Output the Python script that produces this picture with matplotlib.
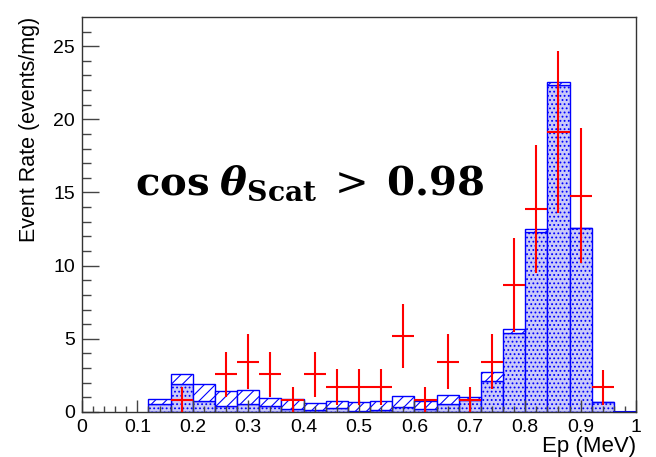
import matplotlib
matplotlib.use("Agg")
import matplotlib.pyplot as plt
import numpy as np

plt.rcParams['font.family'] = ['Liberation Sans', 'DejaVu Sans']
plt.rcParams['mathtext.fontset'] = 'dejavuserif'
plt.rcParams['hatch.linewidth'] = 0.8

# histogram bins (MeV)
bin_lo = np.round(np.arange(0.12, 1.00, 0.04), 2)
bin_w = 0.04
# lower component (dotted) and full stack height
sig_rate = [0.55, 1.89, 0.75, 0.39, 0.55, 0.39, 0.18, 0.15, 0.25, 0.08, 0.14,
            0.32, 0.18, 0.52, 0.82, 2.14, 5.42, 12.30, 22.34, 12.55, 0.66, 0.0]
total_rate = [0.87, 2.57, 1.89, 1.41, 1.48, 0.93, 0.88, 0.60, 0.77, 0.65, 0.75,
              1.07, 0.73, 1.16, 1.05, 2.71, 5.65, 12.48, 22.52, 12.59, 0.66, 0.0]

# measured points
ep = [0.18, 0.26, 0.30, 0.34, 0.38, 0.42, 0.46, 0.50, 0.54, 0.58,
      0.62, 0.66, 0.70, 0.74, 0.78, 0.82, 0.86, 0.90, 0.94]
rate = [0.85, 2.57, 3.44, 2.57, 0.85, 2.57, 1.69, 1.69, 1.69, 5.19,
        0.85, 3.44, 0.85, 3.44, 8.67, 13.87, 19.15, 14.78, 1.69]
rate_err = [0.85, 1.55, 1.90, 1.55, 0.85, 1.55, 1.22, 1.22, 1.22, 2.20,
            0.85, 1.90, 0.85, 1.90, 3.20, 4.40, 5.55, 4.60, 1.20]

sig = np.array(sig_rate)
top = np.array(total_rate) - sig

fig = plt.figure(figsize=(6.56, 4.57), dpi=100)
ax = fig.add_axes([0.125, 0.0985, 0.8445, 0.8645])

# stacked histogram: dotted part below, hatched part on top
ax.bar(bin_lo, sig, width=bin_w, align='edge', facecolor='#cacaf8',
       edgecolor='blue', hatch='....', linewidth=1.0)
ax.bar(bin_lo, top, width=bin_w, bottom=sig, align='edge', facecolor='white',
       edgecolor='blue', hatch='///', linewidth=1.0)
ax.plot([0.96, 1.0], [0, 0], color='blue', lw=1.5, clip_on=False)

# data with error bars
ax.errorbar(ep, rate, yerr=rate_err, xerr=bin_w / 2, fmt='none',
            ecolor='red', elinewidth=1.5, capsize=0, zorder=5)

ax.set_xlim(0, 1)
ax.set_ylim(0, 27)
ax.set_xticks(np.arange(0, 1.01, 0.1))
ax.set_xticklabels(['0', '0.1', '0.2', '0.3', '0.4', '0.5', '0.6', '0.7', '0.8', '0.9', '1'])
ax.set_xticks(np.arange(0, 1.001, 0.02), minor=True)
ax.set_yticks([0, 5, 10, 15, 20, 25])
ax.set_yticks(np.arange(0, 27, 1), minor=True)

ax.tick_params(axis='both', which='both', direction='in', colors='#444444',
               labelcolor='black', labelsize=14, width=1)
ax.tick_params(axis='y', which='major', length=12.5, pad=5)
ax.tick_params(axis='y', which='minor', length=6.5)
ax.tick_params(axis='x', which='major', length=8.5, pad=5)
ax.tick_params(axis='x', which='minor', length=4.3)
for s in ax.spines.values():
    s.set_color('#333333')
    s.set_linewidth(1.0)

ax.set_xlabel('Ep (MeV)', fontsize=16, loc='right')
ax.set_ylabel('Event Rate (events/mg)', fontsize=15.5, loc='top')
ax.xaxis.set_label_coords(1.0, -0.062)
ax.yaxis.set_label_coords(-0.075, 1.0)

ax.text(0.096, 15.6,
        r'$\mathbf{cos}\;\mathbfit{\theta}_{\mathbf{Scat}}\;>\;\mathbf{0.98}$',
        fontsize=29, ha='left', va='center')

fig.savefig('out.png', dpi=100)
